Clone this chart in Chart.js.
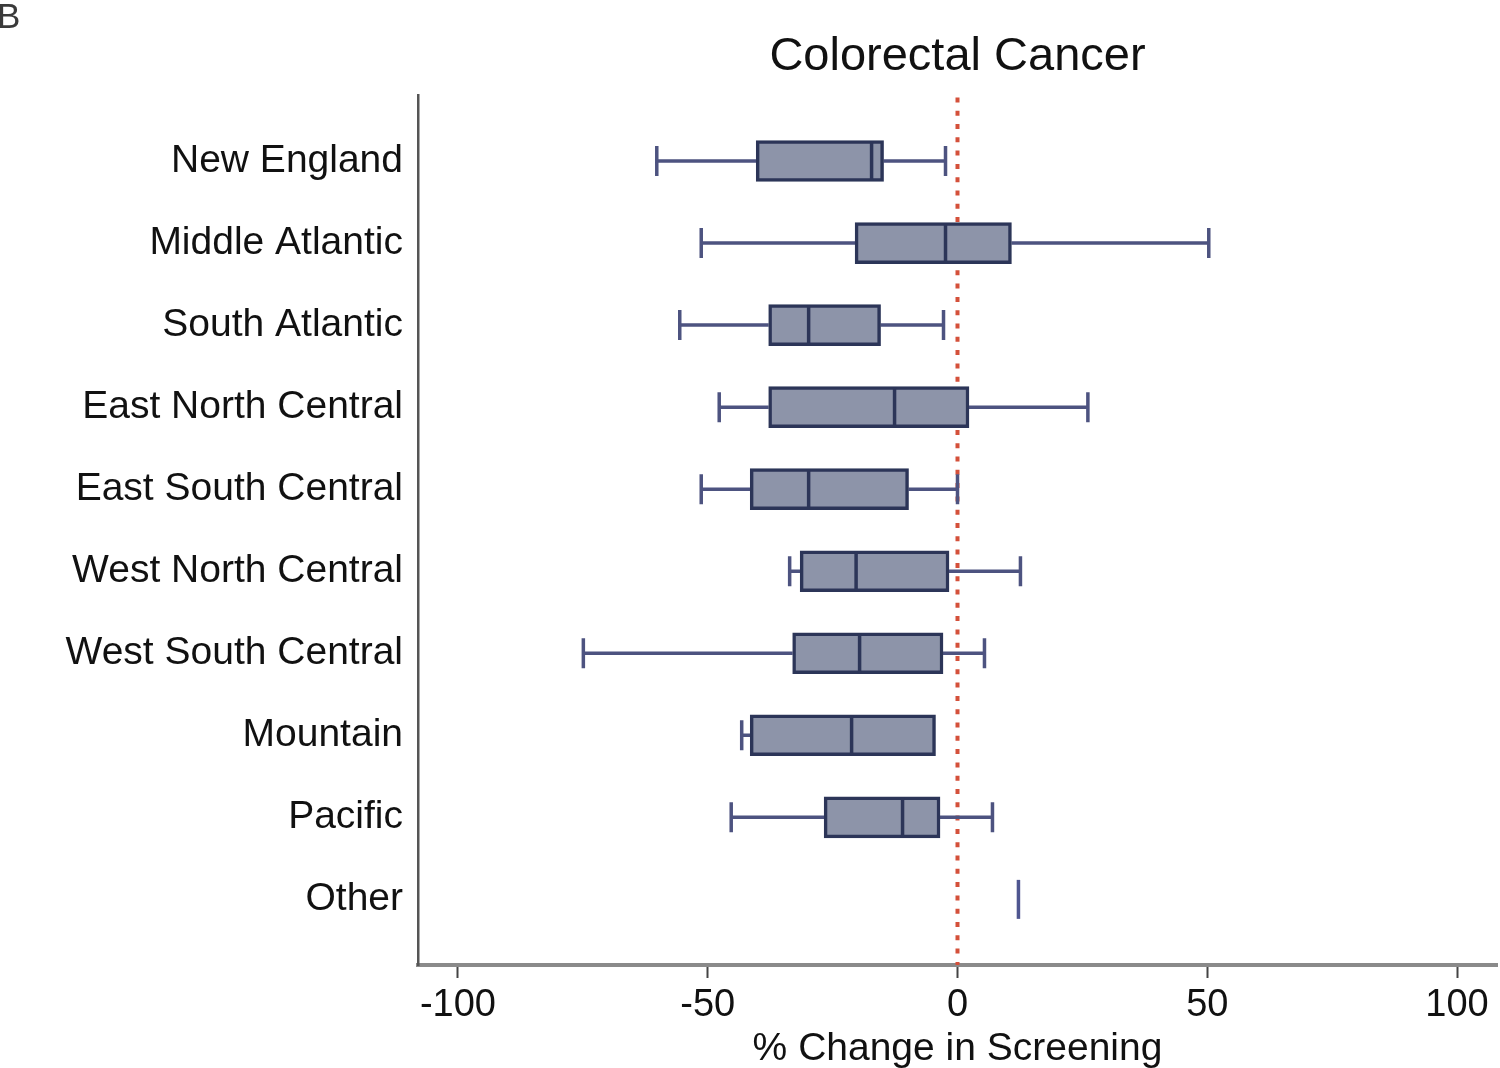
<!DOCTYPE html>
<html>
<head>
<meta charset="utf-8">
<script src="https://cdn.jsdelivr.net/npm/chart.js@4/dist/chart.umd.min.js"></script>
<style>
html,body{margin:0;padding:0;background:#fff;}
#wrap{position:relative;width:1500px;height:1068px;}
</style>
</head>
<body>
<div id="wrap"><canvas id="c" width="1500" height="1068"></canvas></div>
<script>
// ---- data ----
const categories = ['New England','Middle Atlantic','South Atlantic','East North Central','East South Central','West North Central','West South Central','Mountain','Pacific','Other'];
const whiskerLow  = [-60.2, -51.3, -55.6, -47.7, -51.3, -33.6, -74.9, -43.2, -45.3, 12.2];
const q1          = [-40.3, -20.5, -37.8, -37.8, -41.5, -31.5, -33.0, -41.5, -26.7, 12.2];
const median      = [-17.2,  -2.4, -29.8, -12.6, -29.8, -20.3, -19.6, -21.2, -11.0, 12.2];
const q3          = [-14.8,  10.8, -15.4,   2.3,  -9.8,  -1.7,  -2.9,  -4.4,  -3.5, 12.2];
const whiskerHigh = [ -2.4,  50.3,  -2.8,  26.1,   0.0,  12.6,   5.4,  -4.4,   7.0, 12.2];
const xTicks = [-100, -50, 0, 50, 100];
const referenceX = 0;

const FONT = "'Liberation Sans', Arial, Helvetica, sans-serif";
const TXT = '#111';
const boxFill = '#8d94a9';
const boxEdge = '#2c3558';
const whiskerColor = '#4d5380';
const BOX_H = 41, CAP_H = 30;

const boxPlugin = {
  id: 'boxParts',
  beforeDatasetsDraw(chart) {
    const {ctx, chartArea, scales: {x, y}} = chart;
    // reference dotted line
    const rx = x.getPixelForValue(referenceX);
    ctx.save();
    ctx.strokeStyle = '#d4503a';
    ctx.lineWidth = 4;
    ctx.setLineDash([5, 8.3]);
    ctx.beginPath();
    ctx.moveTo(rx, chartArea.top + 2);
    ctx.lineTo(rx, chartArea.bottom);
    ctx.stroke();
    ctx.setLineDash([]);
    // whiskers and caps
    ctx.strokeStyle = whiskerColor;
    ctx.lineWidth = 3.5;
    categories.forEach((c, i) => {
      if (q1[i] === q3[i]) return;
      const cy = y.getPixelForValue(i);
      const xl = x.getPixelForValue(whiskerLow[i]);
      const xq1 = x.getPixelForValue(q1[i]);
      const xq3 = x.getPixelForValue(q3[i]);
      const xh = x.getPixelForValue(whiskerHigh[i]);
      ctx.beginPath();
      ctx.moveTo(xl, cy); ctx.lineTo(xq1, cy);
      ctx.moveTo(xq3, cy); ctx.lineTo(xh, cy);
      ctx.moveTo(xl, cy - CAP_H/2); ctx.lineTo(xl, cy + CAP_H/2);
      if (whiskerHigh[i] > q3[i]) { ctx.moveTo(xh, cy - CAP_H/2); ctx.lineTo(xh, cy + CAP_H/2); }
      ctx.stroke();
    });
    ctx.restore();
  },
  afterDatasetsDraw(chart) {
    const {ctx, scales: {x, y}} = chart;
    ctx.save();
    ctx.lineWidth = 3.5;
    categories.forEach((c, i) => {
      const cy = y.getPixelForValue(i);
      const xm = x.getPixelForValue(median[i]);
      ctx.strokeStyle = (q1[i] === q3[i]) ? '#4f5690' : boxEdge;
      ctx.beginPath();
      ctx.moveTo(xm, cy - BOX_H/2 + 1);
      ctx.lineTo(xm, cy + BOX_H/2 - 1);
      ctx.stroke();
    });
    ctx.restore();
  },
  afterDraw(chart) {
    const {ctx} = chart;
    ctx.save();
    ctx.fillStyle = '#3a3a3a';
    ctx.font = "35px " + FONT;
    ctx.textBaseline = 'alphabetic';
    ctx.textAlign = 'left';
    ctx.fillText('B', -3, 28);
    ctx.restore();
  }
};

new Chart(document.getElementById('c'), {
  type: 'bar',
  data: {
    datasets: [{
      data: categories.map((c, i) => ({x: [q1[i], q3[i]], y: i})),
      backgroundColor: boxFill,
      borderColor: boxEdge,
      borderWidth: 3.5,
      borderSkipped: false,
      barThickness: BOX_H
    }]
  },
  options: {
    indexAxis: 'y',
    responsive: false,
    animation: false,
    layout: {padding: {right: 3, left: 0, top: 0, bottom: 0}},
    plugins: {
      legend: {display: false},
      tooltip: {enabled: false},
      title: {
        display: true,
        fullSize: false,
        text: 'Colorectal Cancer',
        color: TXT,
        font: {family: FONT, size: 47, weight: 'normal', lineHeight: 1.2},
        padding: {top: 29, bottom: 10}
      }
    },
    scales: {
      x: {
        type: 'linear',
        min: -108, max: 108,
        afterBuildTicks: s => { s.ticks = xTicks.map(v => ({value: v})); },
        afterFit: s => { s.height = 103; },
        grid: {display: true, drawOnChartArea: false, drawTicks: true, tickLength: 13, tickWidth: 2, tickColor: '#444'},
        border: {display: true, color: '#8a8a8a', width: 4},
        ticks: {color: TXT, font: {family: FONT, size: 38}, padding: 5, maxRotation: 0},
        title: {display: true, text: '% Change in Screening', color: TXT,
                font: {family: FONT, size: 39, lineHeight: 1}, padding: {top: 0, bottom: -1}}
      },
      y: {
        type: 'linear',
        min: -0.8, max: 9.8,
        offset: false,
        reverse: true,
        afterBuildTicks: s => { s.ticks = categories.map((c, i) => ({value: i})); },
        afterFit: s => { s.width = 418; },
        grid: {display: false, drawTicks: false},
        border: {display: true, color: '#555', width: 2.5},
        ticks: {color: TXT, font: {family: FONT, size: 39}, padding: 15,
                callback: v => categories[v]}
      }
    }
  },
  plugins: [boxPlugin]
});
</script>
</body>
</html>
